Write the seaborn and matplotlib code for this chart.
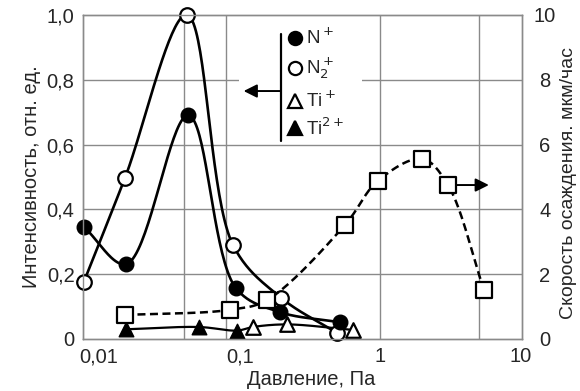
import numpy as np
import pandas as pd
import seaborn as sns
import matplotlib
matplotlib.use("Agg")
from matplotlib import pyplot as plt
from matplotlib.patches import Rectangle

# ---- data ----
n_p = [0.0078, 0.0156, 0.043, 0.094, 0.193, 0.516]
n_i = [0.346, 0.231, 0.69, 0.157, 0.083, 0.052]

n2_p = [0.0078, 0.0153, 0.042, 0.0896, 0.197, 0.49]
n2_i = [0.176, 0.497, 1.0, 0.29, 0.127, 0.019]

ti_p = [0.124, 0.217, 0.64]
ti_i = [0.037, 0.045, 0.028]

ti2_p = [0.0156, 0.0514, 0.096]
ti2_i = [0.030, 0.037, 0.026]

rate_p = [0.0153, 0.0853, 0.156, 0.56, 0.96, 1.98, 3.02, 5.45]
rate_v = [0.74, 0.9, 1.2, 3.52, 4.88, 5.56, 4.75, 1.51]

x_ticks = [0.01, 0.1, 1, 10]
x_labels = ["0,01", "0,1", "1", "10"]
y_ticks = [0, 0.2, 0.4, 0.6, 0.8, 1.0]
y_labels = ["0", "0,2", "0,4", "0,6", "0,8", "1,0"]
r_ticks = [0, 2, 4, 6, 8, 10]
v_grid = [0.04, 0.08, 1, 5]


def smooth(xs, ys, yscale=1.0, n=40):
    # centripetal catmull-rom through the points (roughly in screen units)
    pts = np.column_stack([np.log10(xs) * 140.7, np.asarray(ys) * 324 / yscale])
    p = np.vstack([2 * pts[0] - pts[1], pts, 2 * pts[-1] - pts[-2]])
    out = []
    for i in range(1, len(p) - 2):
        P0, P1, P2, P3 = p[i - 1], p[i], p[i + 1], p[i + 2]
        t0 = 0.0
        t1 = t0 + np.linalg.norm(P1 - P0) ** 0.5
        t2 = t1 + np.linalg.norm(P2 - P1) ** 0.5
        t3 = t2 + np.linalg.norm(P3 - P2) ** 0.5
        t = np.linspace(t1, t2, n)[:, None]
        A1 = (t1 - t) / (t1 - t0) * P0 + (t - t0) / (t1 - t0) * P1
        A2 = (t2 - t) / (t2 - t1) * P1 + (t - t1) / (t2 - t1) * P2
        A3 = (t3 - t) / (t3 - t2) * P2 + (t - t2) / (t3 - t2) * P3
        B1 = (t2 - t) / (t2 - t0) * A1 + (t - t0) / (t2 - t0) * A2
        B2 = (t3 - t) / (t3 - t1) * A2 + (t - t1) / (t3 - t1) * A3
        out.append((t2 - t) / (t2 - t1) * B1 + (t - t1) / (t2 - t1) * B2)
    res = np.vstack(out)
    return pd.DataFrame({"p": 10 ** (res[:, 0] / 140.7), "v": res[:, 1] * yscale / 324})


sns.set_style("white")
plt.rcParams['font.family'] = ['Liberation Sans', 'DejaVu Sans']

fig = plt.figure(figsize=(5.8, 3.91), dpi=100)
ax = fig.add_axes([0.143, 0.133, 0.757, 0.829])
ax2 = ax.twinx()

ax.set_xscale("log")
ax.set_xlim(0.00769, 10.15)
ax.set_ylim(0, 1.0)
ax2.set_ylim(0, 10)

grid_c = "#8a8a8a"
for v in y_ticks[1:-1]:
    ax.axhline(v, color=grid_c, lw=1, zorder=0)
for v in v_grid:
    ax.axvline(v, color=grid_c, lw=1, zorder=0)
for a in (ax, ax2):
    for s in a.spines.values():
        s.set_color(grid_c)
        s.set_linewidth(1)

# white box where the legend sits (covers the grid)
ax.add_patch(Rectangle((0.355, 0.61), 0.28, 0.36, transform=ax.transAxes,
                       facecolor="white", edgecolor="none", zorder=1))

lw = 1.9
for xs, ys in [(n_p, n_i), (n2_p, n2_i)]:
    sns.lineplot(data=smooth(xs, ys), x="p", y="v", ax=ax, sort=False,
                 color="black", lw=lw, zorder=2)
sns.lineplot(data=smooth(ti2_p + ti_p, ti2_i + ti_i), x="p", y="v", ax=ax,
             sort=False, color="black", lw=1.6, zorder=2)

ms = 110
sns.scatterplot(x=n2_p, y=n2_i, ax=ax, marker="o", s=ms, facecolor="white",
                edgecolor="black", linewidth=1.6, zorder=4, clip_on=False)
sns.scatterplot(x=n_p, y=n_i, ax=ax, marker="o", s=ms, color="black",
                edgecolor="black", linewidth=1, zorder=4, clip_on=False)
sns.scatterplot(x=ti_p, y=ti_i, ax=ax, marker="^", s=ms, facecolor="white",
                edgecolor="black", linewidth=1.6, zorder=4, clip_on=False)
sns.scatterplot(x=ti2_p, y=ti2_i, ax=ax, marker="^", s=ms, color="black",
                edgecolor="black", linewidth=1, zorder=4, clip_on=False)

sns.lineplot(data=smooth(rate_p, rate_v, yscale=10), x="p", y="v", ax=ax2, sort=False,
             color="black", lw=1.8, zorder=2)
ax2.lines[-1].set_dashes([3.2, 1.8])
sns.scatterplot(x=rate_p, y=rate_v, ax=ax2, marker="s", s=130, facecolor="white",
                edgecolor="black", linewidth=1.6, zorder=4, clip_on=False)

# legend drawn by hand
ax.plot([0.45, 0.45], [0.61, 0.94], transform=ax.transAxes, color="black", lw=1.6, zorder=3)
ax.annotate("", xy=(0.366, 0.765), xytext=(0.45, 0.765), xycoords="axes fraction",
            arrowprops=dict(arrowstyle="-|>", color="black", lw=1.4,
                            mutation_scale=20, shrinkA=0, shrinkB=0), zorder=3)
leg_rows = [("o", "black", r"N$^+$"), ("o", "white", r"N$_2^+$"),
            ("^", "white", r"Ti$^+$"), ("^", "black", r"Ti$^{2+}$")]
leg_y = [0.93, 0.835, 0.735, 0.65]
for (m, fc, lab), yy in zip(leg_rows, leg_y):
    ax.plot([0.484], [yy], marker=m, ms=9.5, mfc=fc, mec="black", mew=1.6,
            transform=ax.transAxes, zorder=3, ls="none")
    ax.text(0.508, yy, lab, transform=ax.transAxes, fontsize=13.5, va="center",
            ha="left", zorder=3)

ax2.annotate("", xy=(5.9, 4.75), xytext=(3.0, 4.75), xycoords="data",
             arrowprops=dict(arrowstyle="-|>", color="black", lw=1.4,
                             mutation_scale=20, shrinkA=0, shrinkB=0), zorder=3)

ax.set_xticks(x_ticks)
ax.set_xticklabels(x_labels)
ax.xaxis.set_minor_locator(matplotlib.ticker.NullLocator())
ax.set_yticks(y_ticks)
ax.set_yticklabels(y_labels)
ax2.set_yticks(r_ticks)
ax.tick_params(labelsize=14.5, length=0, pad=6)
ax2.tick_params(labelsize=14.5, length=0, pad=16.5)
for lab in ax2.get_yticklabels():
    lab.set_horizontalalignment("center")

ax.set_xlabel("Давление, Па", fontsize=14.5, labelpad=0)
ax.xaxis.set_label_coords(0.52, -0.095)
ax.set_ylabel("Интенсивность, отн. ед.", fontsize=14.5, labelpad=4)
ax2.set_ylabel("Скорость осаждения. мкм/час", fontsize=14, labelpad=3)
ax2.yaxis.set_label_coords(1.086, 0.48)

fig.savefig("out.png", dpi=100)
